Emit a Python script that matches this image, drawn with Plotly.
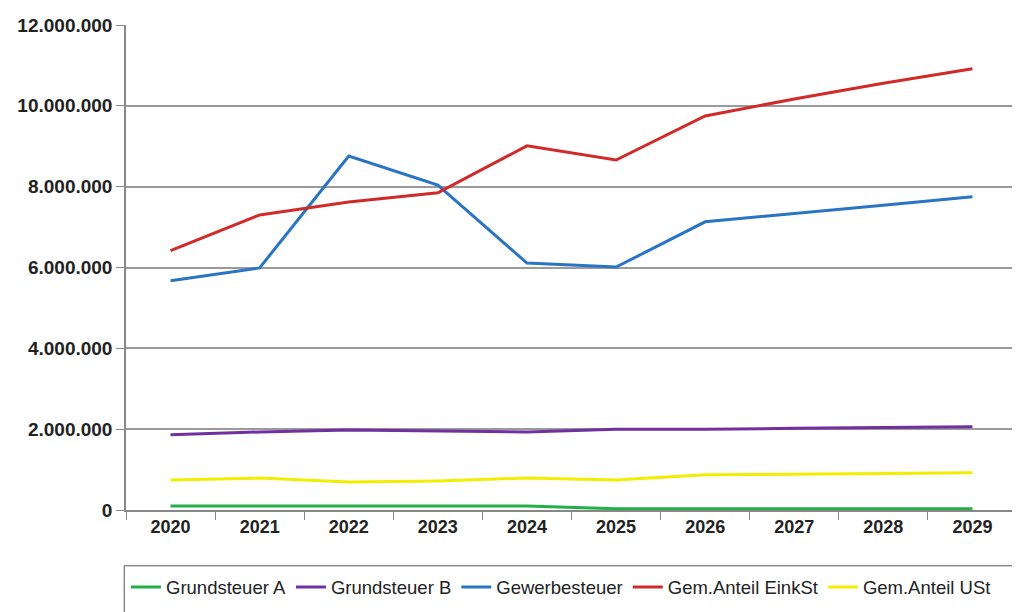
import plotly.graph_objects as go

years = ["2020", "2021", "2022", "2023", "2024", "2025", "2026", "2027", "2028", "2029"]
grundsteuer_a = [100000, 100000, 100000, 100000, 100000, 30000, 30000, 30000, 30000, 30000]
grundsteuer_b = [1860000, 1930000, 1980000, 1950000, 1930000, 2000000, 2000000, 2020000, 2040000, 2060000]
gewerbesteuer = [5670000, 5990000, 8760000, 8040000, 6110000, 6010000, 7130000, 7330000, 7540000, 7750000]
anteil_einkst = [6420000, 7300000, 7620000, 7850000, 9010000, 8660000, 9750000, 10170000, 10560000, 10920000]
anteil_ust = [740000, 790000, 690000, 720000, 790000, 740000, 870000, 890000, 900000, 920000]

series = [
    ("Grundsteuer A", grundsteuer_a, "#22B04A"),
    ("Grundsteuer B", grundsteuer_b, "#7030A0"),
    ("Gewerbesteuer", gewerbesteuer, "#2A74C4"),
    ("Gem.Anteil EinkSt", anteil_einkst, "#D02A2A"),
    ("Gem.Anteil USt", anteil_ust, "#F2EE00"),
]

FONT = "Liberation Sans, Arial, sans-serif"

fig = go.Figure()
for name, vals, col in series:
    fig.add_trace(go.Scatter(x=years, y=vals, name=name, mode="lines",
                             line=dict(color=col, width=3)))

fig.update_layout(
    width=1012, height=604,
    margin=dict(l=118, r=3, t=17, b=102),
    paper_bgcolor="white", plot_bgcolor="white",
    separators=",.",
    showlegend=True,
    legend=dict(orientation="h", x=0.0, xanchor="left", yref="container", y=0.072, yanchor="top",
                font=dict(family=FONT, size=18.5, color="#222"),
                itemwidth=30, tracegroupgap=0, bgcolor="rgba(0,0,0,0)"),
    font=dict(family=FONT, color="#222"),
)
fig.update_xaxes(type="category", tickson="boundaries", ticks="outside", ticklen=8,
                 tickcolor="#888", showline=True, linecolor="#888", linewidth=1.5,
                 showgrid=False, automargin=False,
                 tickfont=dict(size=18, family=FONT, weight="bold", color="#222"),
                 range=[-0.5, 9.5])
fig.update_yaxes(range=[0, 12000000], dtick=2000000, tickformat=",d", ticks="outside",
                 ticklen=8, tickcolor="#888", showline=True, linecolor="#888", linewidth=1.5,
                 showgrid=True, gridcolor="#9a9a9a", gridwidth=1.5, zeroline=False, automargin=False,
                 tickfont=dict(size=19, family=FONT, weight="bold", color="#222"))

fig.add_shape(type="rect", xref="paper", yref="paper", x0=-0.002, x1=1.02, y0=-0.25, y1=-0.115,
              line=dict(color="#555", width=1), fillcolor="rgba(0,0,0,0)")
fig.add_shape(type="line", xref="paper", yref="paper", x0=1, x1=1, y0=-0.1, y1=1.06,
              line=dict(color="#dddddd", width=1))

fig.write_html("out.html")
